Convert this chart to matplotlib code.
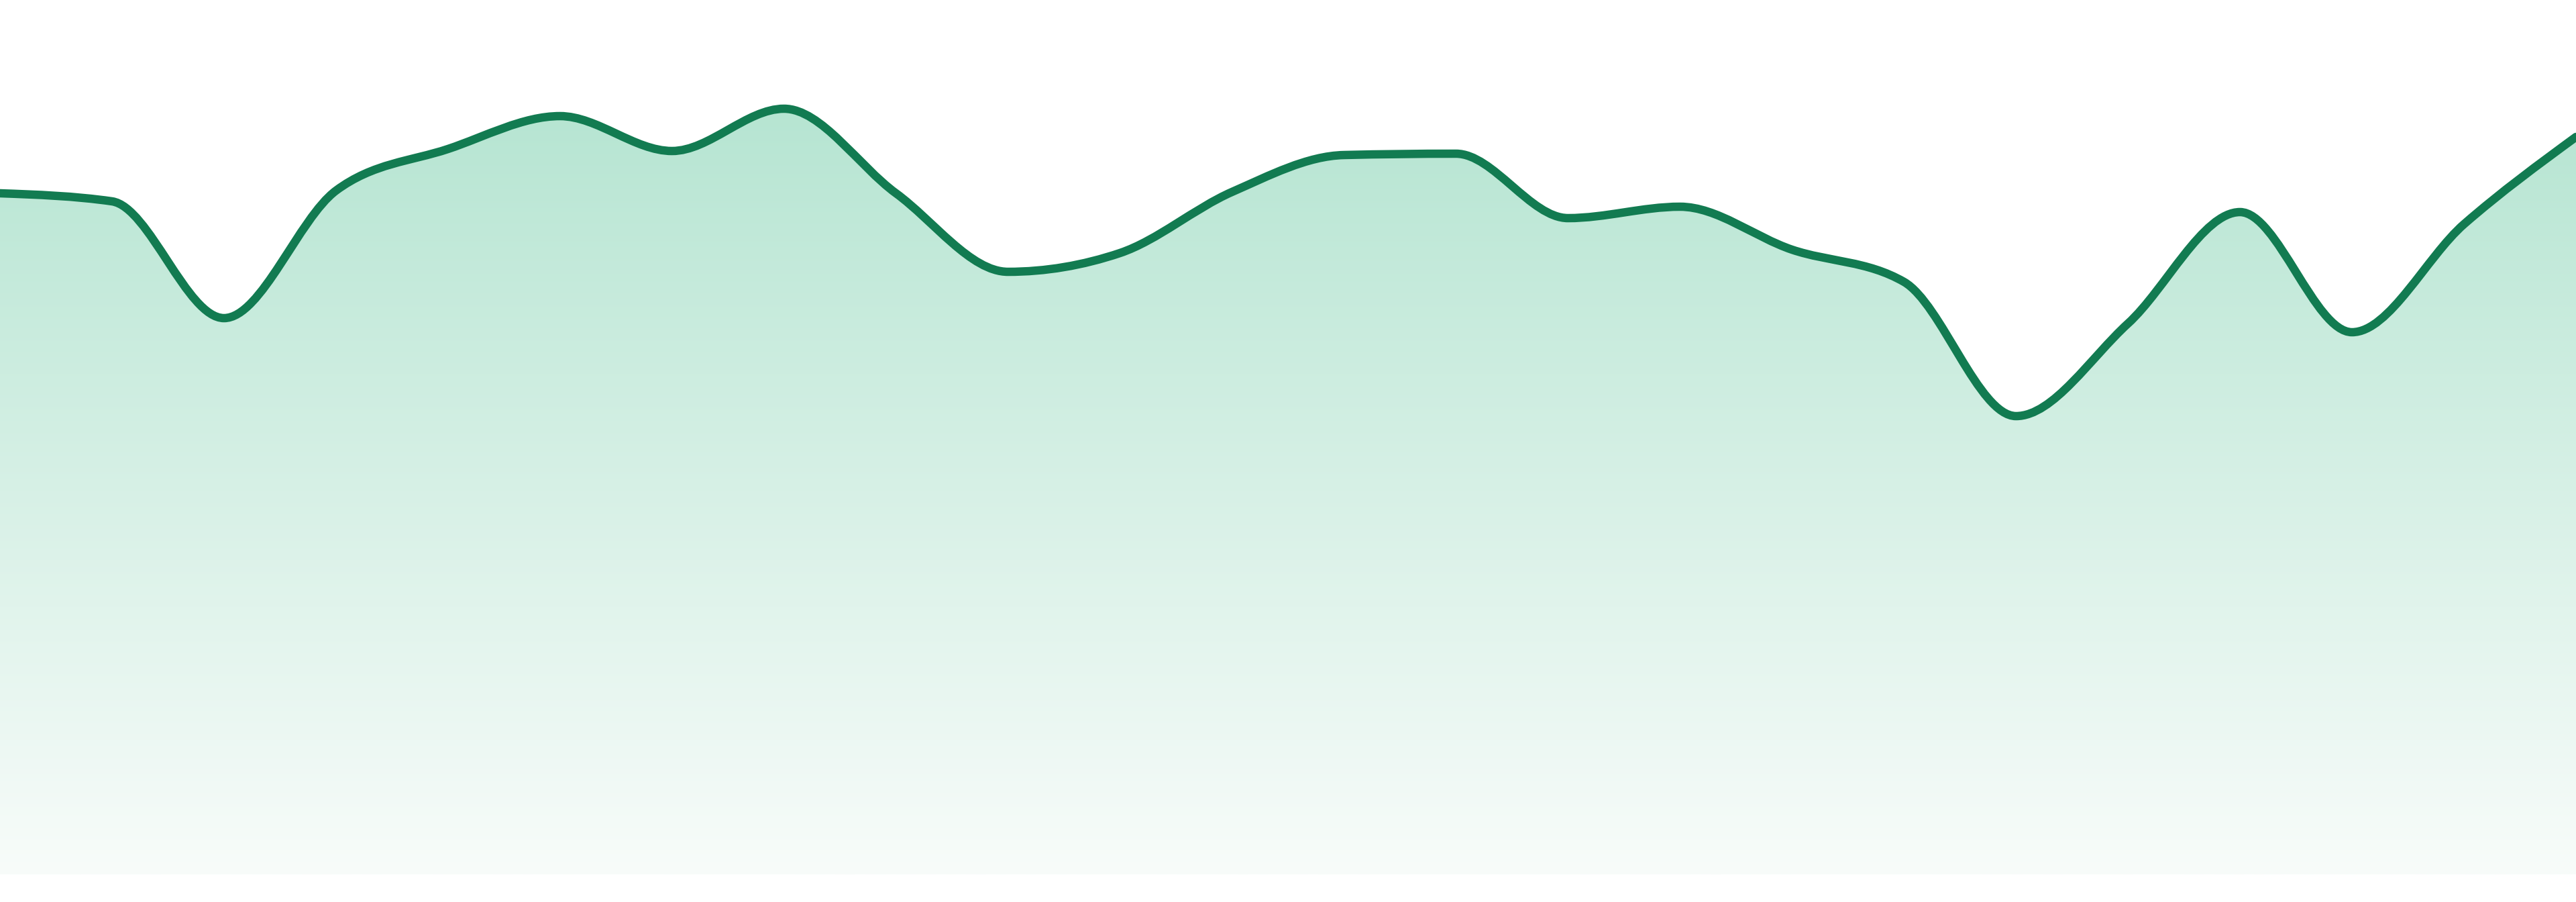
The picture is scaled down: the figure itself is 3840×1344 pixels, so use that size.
import numpy as np
import matplotlib
matplotlib.use("Agg")
import matplotlib.pyplot as plt
from matplotlib.path import Path
from matplotlib.patches import PathPatch

# values (24 evenly spaced points)
idx = list(range(24))
vals = [1015, 1003, 829, 1019, 1081, 1130, 1078, 1141, 1015, 898, 926, 1017,
        1072, 1074, 978, 995, 931, 883, 683, 821, 987, 808, 969, 1099]

line_col = "#127b51"
top_rgb = (182, 229, 210)
bot_rgb = (248, 252, 250)


def monotone_x(x, y):
    # same as d3 curveMonotoneX, returns bezier vertices
    x = np.asarray(x, float)
    y = np.asarray(y, float)
    n = len(x)
    h = np.diff(x)
    s = np.diff(y) / h
    t = np.zeros(n)
    for i in range(1, n - 1):
        s0, s1 = s[i - 1], s[i]
        p = (s0 * h[i] + s1 * h[i - 1]) / (h[i - 1] + h[i])
        t[i] = (np.sign(s0) + np.sign(s1)) * min(abs(s0), abs(s1), 0.5 * abs(p))
    t[0] = (3 * s[0] - t[1]) / 2
    t[-1] = (3 * s[-1] - t[-2]) / 2
    verts = [(x[0], y[0])]
    codes = [Path.MOVETO]
    for i in range(n - 1):
        dx = h[i] / 3
        verts += [(x[i] + dx, y[i] + dx * t[i]),
                  (x[i + 1] - dx, y[i + 1] - dx * t[i + 1]),
                  (x[i + 1], y[i + 1])]
        codes += [Path.CURVE4] * 3
    return verts, codes


fig = plt.figure(figsize=(38.4, 13.44), dpi=100)
ax = fig.add_axes([0, 41 / 1344, 1, 1303 / 1344])
ax.set_xlim(0, 23)
ax.set_ylim(0, 1303)
ax.axis("off")

verts, codes = monotone_x(idx, vals)

# area under the curve
a_verts = verts + [(23, 0), (0, 0), verts[0]]
a_codes = codes + [Path.LINETO, Path.LINETO, Path.CLOSEPOLY]
area = PathPatch(Path(a_verts, a_codes), facecolor="none", edgecolor="none")
ax.add_patch(area)

# vertical gradient, clipped to the area
ys = np.linspace(1303, 0, 600)
frac = np.clip(ys / (1303 - 160), 0, 1)
grad = np.zeros((len(ys), 1, 3))
for c in range(3):
    grad[:, 0, c] = (bot_rgb[c] + (top_rgb[c] - bot_rgb[c]) * frac) / 255
im = ax.imshow(grad, extent=[0, 23, 0, 1303], aspect="auto", origin="upper",
               interpolation="bilinear", zorder=1)
im.set_clip_path(area)

line = PathPatch(Path(verts, codes), facecolor="none", edgecolor=line_col,
                 linewidth=9, capstyle="round", joinstyle="round", zorder=3)
ax.add_patch(line)

fig.savefig("out.png", dpi=100, facecolor="white")
